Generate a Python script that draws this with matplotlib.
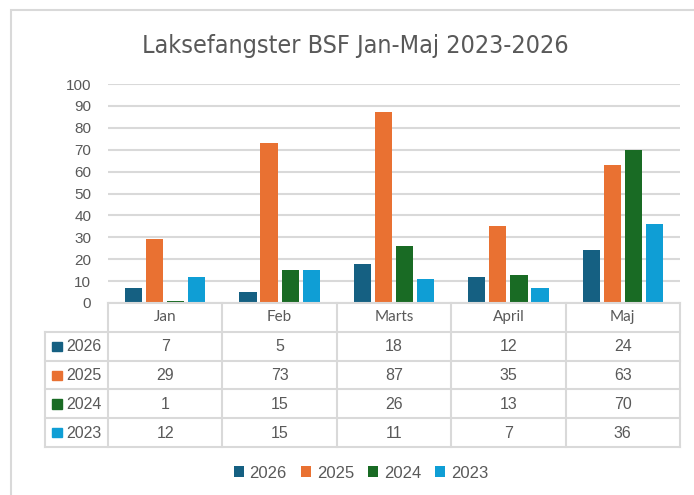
import matplotlib
matplotlib.use("Agg")
from matplotlib import pyplot as plt
from matplotlib.patches import Rectangle
import numpy as np

# data
months = ["Jan", "Feb", "Marts", "April", "Maj"]
years = ["2026", "2025", "2024", "2023"]
v2026 = [7, 5, 18, 12, 24]
v2025 = [29, 73, 87, 35, 63]
v2024 = [1, 15, 26, 13, 70]
v2023 = [12, 15, 11, 7, 36]
series = [v2026, v2025, v2024, v2023]
colors = ["#156082", "#E97132", "#196B24", "#0F9ED5"]
yticks = list(range(0, 101, 10))

txt = "#595959"
grid = "#D9D9D9"
W, H = 694, 495

fig = plt.figure(figsize=(W / 100, H / 100), dpi=100)

def fx(px):
    return px / W

def fy(py):
    return 1 - py / H

# outer border of the chart box
fig.add_artist(Rectangle((fx(11), fy(600)), 1, fy(10) - fy(600), transform=fig.transFigure,
                         fill=False, edgecolor=grid, lw=1.5))

# title
fig.text(fx(355), fy(46), "Laksefangster BSF Jan-Maj 2023-2026", ha="center", va="center",
         fontsize=18, color=txt, family="DejaVu Sans", fontstretch="condensed")

# bars
left, right, top, base = 108, 680, 84, 303
ax = fig.add_axes([fx(left), fy(base), fx(right - left), fy(top) - fy(base)])
x = np.arange(len(months))
bw = 0.15
step = 0.184
for i, (vals, c) in enumerate(zip(series, colors)):
    ax.bar(x + (i - 1.5) * step, vals, width=bw, color=c, zorder=3, label=years[i])
ax.set_xlim(-0.5, len(months) - 0.5)
ax.set_ylim(0, 100)
ax.set_yticks(yticks)
ax.set_yticklabels([str(t) for t in yticks], fontsize=11, color=txt, family="Liberation Sans")
ax.set_xticks([])
ax.tick_params(axis="y", length=0, pad=12)
for s in ax.spines.values():
    s.set_visible(False)
ax.grid(axis="y", color=grid, lw=1.5, zorder=0)
ax.patch.set_alpha(0)

# data table under the bars
tb_bottom = 447
axt = fig.add_axes([fx(left), fy(tb_bottom), fx(right - left), fy(base) - fy(tb_bottom)])
axt.set_xlim(-0.5, len(months) - 0.5)
axt.set_ylim(len(years), -1)
axt.axis("off")
lx = -0.5 - (left - 45) / ((right - left) / len(months))
lk = dict(color=grid, lw=1.5, clip_on=False)
# horizontal lines
axt.plot([-0.5, len(months) - 0.5], [-1, -1], **lk)
for r in range(len(years) + 1):
    axt.plot([lx, len(months) - 0.5], [r, r], **lk)
# vertical lines
for c in range(len(months) + 1):
    axt.plot([c - 0.5, c - 0.5], [-1, len(years)], **lk)
axt.plot([lx, lx], [0, len(years)], **lk)

for j, m in enumerate(months):
    axt.text(j, -0.5, m, ha="center", va="center", fontsize=11, color=txt, family="Lato")
for r, (yr, vals, c) in enumerate(zip(years, series, colors)):
    axt.add_patch(Rectangle((lx + 0.06, r + 0.35), 0.085, 0.32, color=c, clip_on=False))
    axt.text(lx + 0.19, r + 0.52, yr, ha="left", va="center", fontsize=11.5, color=txt,
             family="Liberation Sans")
    for j, v in enumerate(vals):
        axt.text(j, r + 0.52, str(v), ha="center", va="center", fontsize=11.5, color=txt,
                 family="Liberation Sans")

# legend
leg = fig.legend(loc="center", bbox_to_anchor=(fx(361), fy(473)), ncol=4, frameon=False,
                 handlelength=0.6, handleheight=0.6, handletextpad=0.35, columnspacing=0.85,
                 prop={"family": "Liberation Sans", "size": 12})
for t in leg.get_texts():
    t.set_color(txt)

fig.savefig("out.png", dpi=100)
